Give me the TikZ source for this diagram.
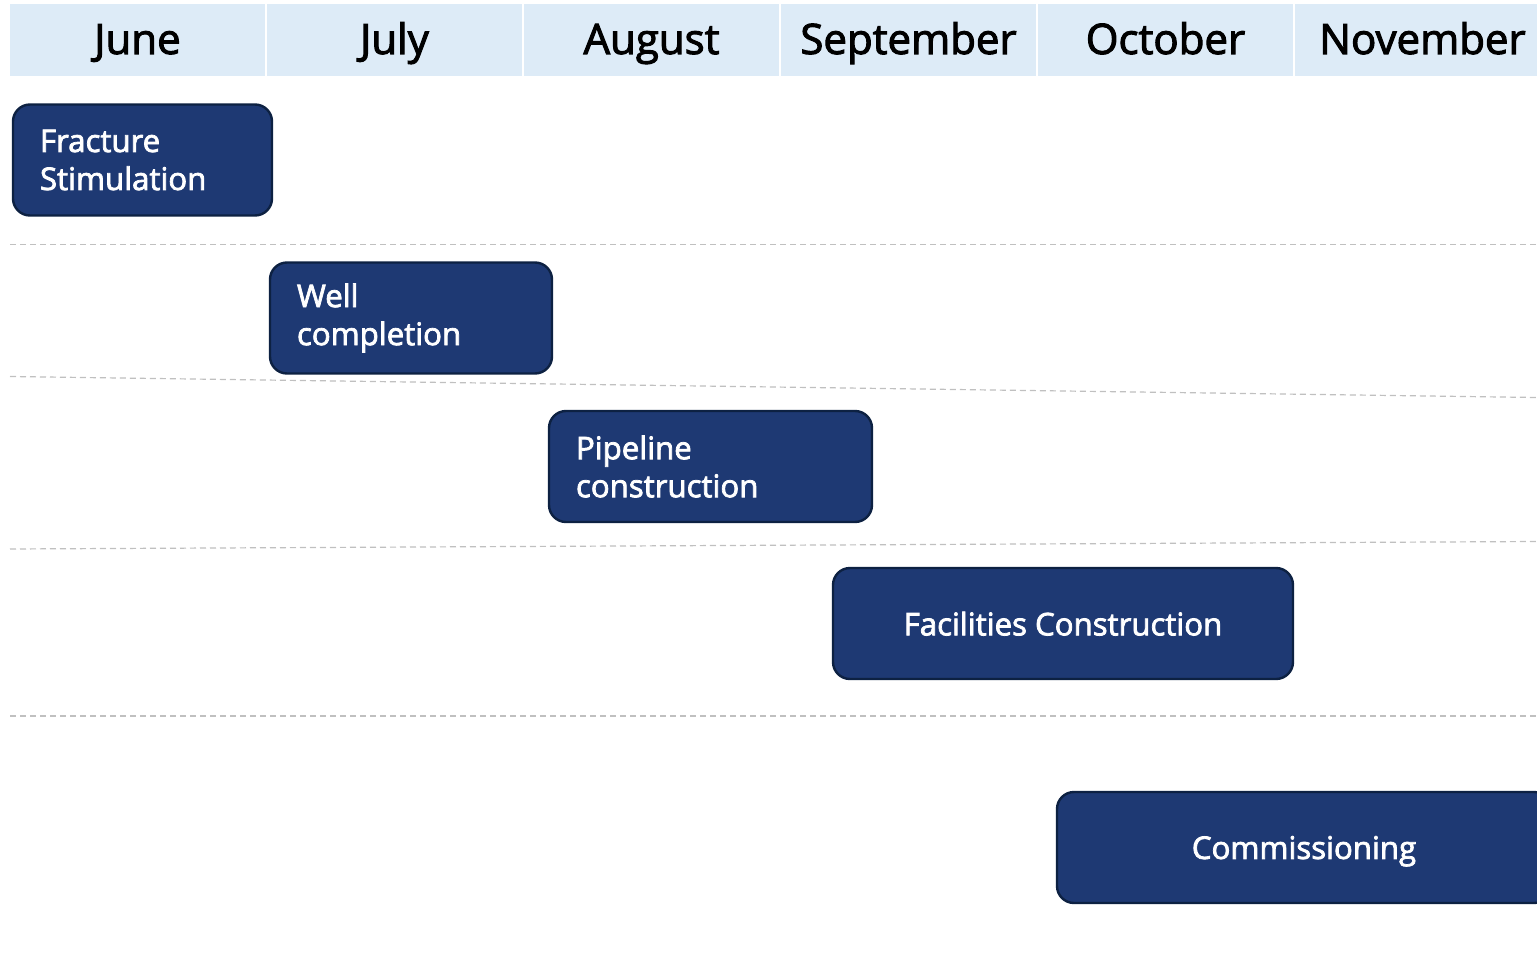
\documentclass[tikz,border=0pt]{standalone}
\usepackage{fontspec}
\setmainfont{Open Sans}[FakeBold=2.4]
\usepackage{tikz}
\usepackage{xcolor}
\definecolor{monthblue}{RGB}{221,235,247}
\definecolor{tasknavy}{RGB}{30,57,115}
\definecolor{taskedge}{RGB}{13,33,66}
\definecolor{rowgray}{RGB}{192,192,192}

\tikzset{
    month/.style={fill=monthblue, minimum width=127.5pt, minimum height=36pt, inner sep=0pt,
        text height=17pt, text depth=3pt, font=\fontsize{21}{25}\selectfont},
    task/.style={draw=taskedge, line width=1.2pt, fill=tasknavy, rounded corners=8.5pt,
        text=white, minimum height=55.5pt, inner ysep=0pt,
        font=\fontsize{15.6}{19}\selectfont},
    tasktwo/.style={task, align=left, inner xsep=13.5pt, text width=#1},
    rowline/.style={rowgray, line width=0.6pt, dash pattern=on 3pt off 2pt}
}

\begin{document}
\begin{tikzpicture}[x=0.5pt, y=-0.5pt]
    \clip (0,0) rectangle (1537,974);
    \fill[white] (0,0) rectangle (1537,974);

    \node[month] (june) at (137.5,40) {June};
    \node[month] (july) at (394.5,40) {July};
    \node[month] (august) at (651.5,40) {August};
    \node[month] (september) at (908.5,40) {September};
    \node[month] (october) at (1165.5,40) {October};
    \node[month] (november) at (1422.5,40) {November};

    \draw[rowline] (10,244.5) -- (1537,244.5);
    \draw[rowline] (10,376.5) -- (1537,397.5);
    \draw[rowline] (10,549) -- (1537,541.5);
    \draw[rowline] (10,716) -- (1537,716);

    \node[tasktwo=102.5pt, minimum width=129.5pt] (fracture) at (142.5,160) {Fracture\\Stimulation};
    \node[tasktwo=114pt, minimum width=141pt] (well) at (411,318) {Well\\completion};
    \node[tasktwo=134.5pt, minimum width=161.5pt] (pipeline) at (710.5,466.5) {Pipeline\\construction};
    \node[task, minimum width=230pt, text depth=0pt] (facilities) at (1063,623.5) {Facilities Construction};
    \node[task, minimum width=247pt, text depth=0pt] (commissioning) at (1304,847.5) {Commissioning};
\end{tikzpicture}
\end{document}
